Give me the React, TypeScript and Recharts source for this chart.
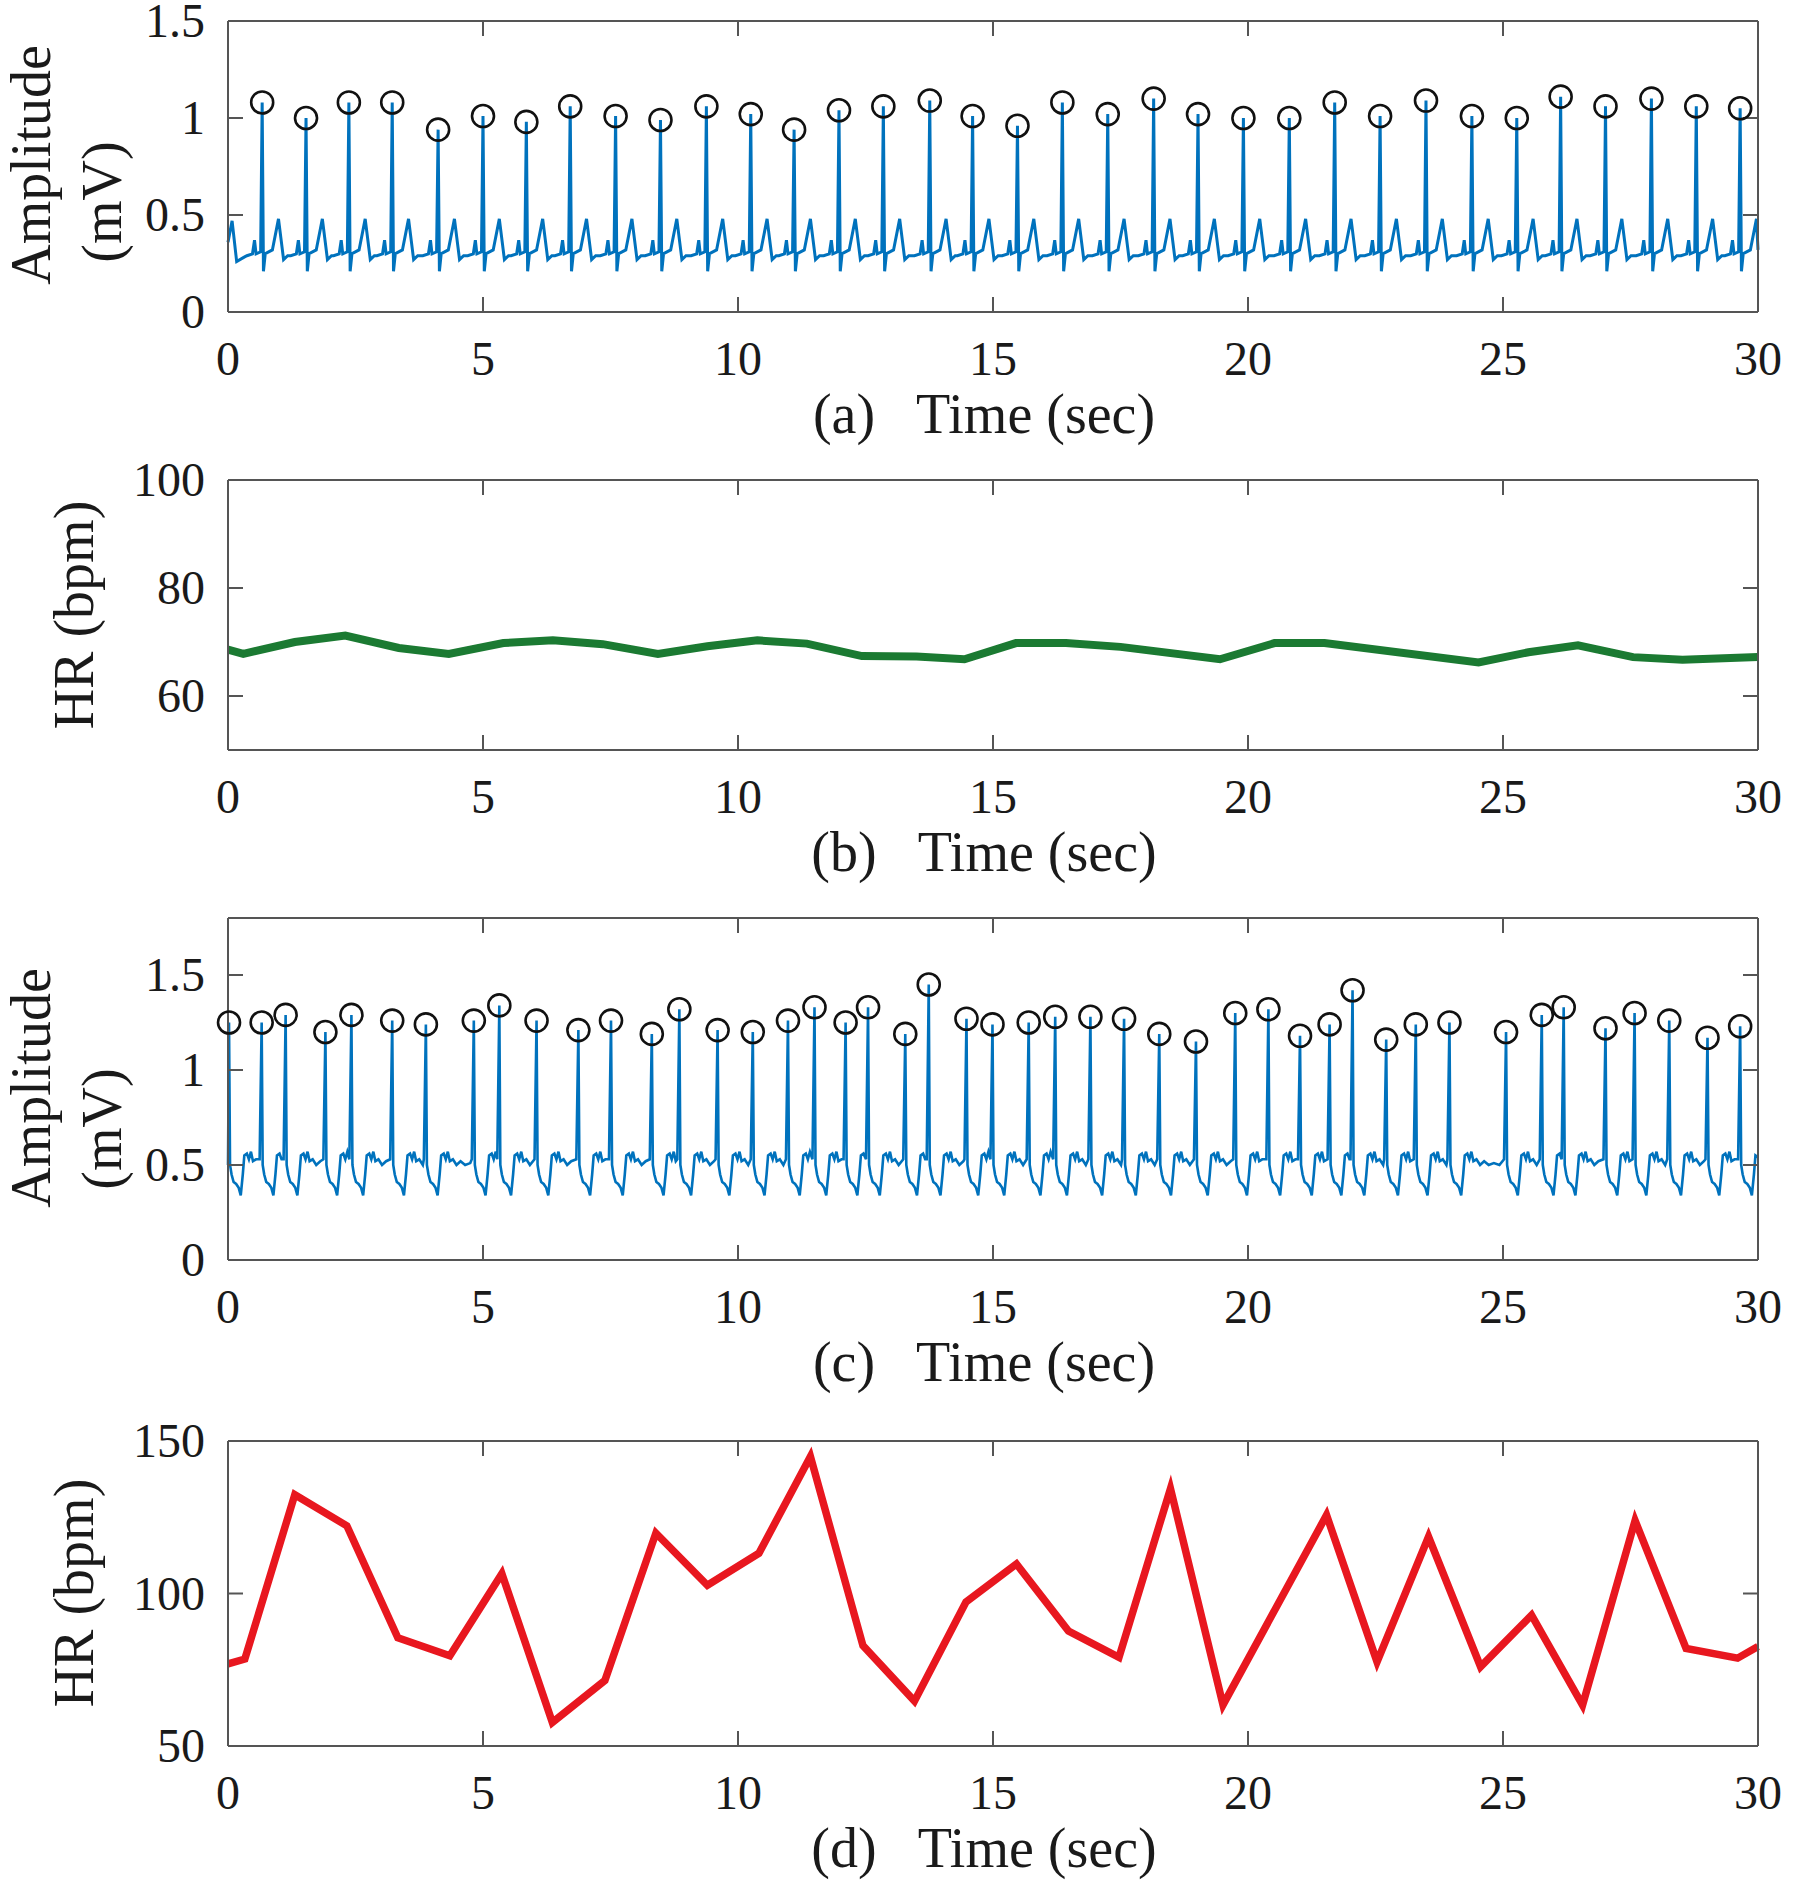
import React from 'react'
import { ComposedChart, Line, Scatter, XAxis, YAxis } from 'recharts'

const timeTicks = [0, 5, 10, 15, 20, 25, 30]

// (a) ECG: R-peak times (s) and heights (mV)
const peakTimesA = [0.67, 1.53, 2.37, 3.22, 4.12, 5.0, 5.85, 6.71, 7.6, 8.48, 9.38, 10.25, 11.1, 11.98, 12.85, 13.76, 14.6, 15.48, 16.36, 17.25, 18.15, 19.02, 19.91, 20.81, 21.7, 22.59, 23.49, 24.39, 25.27, 26.13, 27.01, 27.91, 28.79, 29.65]
const peakAmpsA = [1.08, 1.0, 1.08, 1.08, 0.94, 1.01, 0.98, 1.06, 1.01, 0.99, 1.06, 1.02, 0.94, 1.04, 1.06, 1.09, 1.01, 0.96, 1.08, 1.02, 1.1, 1.02, 1.0, 1.0, 1.08, 1.01, 1.09, 1.01, 1.0, 1.11, 1.06, 1.1, 1.06, 1.05]
// one beat: [offset from R (s), mV], null = the R peak itself
const beatShapeA: [number, number | null][] = [
  [-0.3, 0.29], [-0.19, 0.3], [-0.15, 0.37], [-0.12, 0.3], [-0.03, 0.31], [0, null],
  [0.025, 0.21], [0.06, 0.3], [0.2, 0.32], [0.32, 0.48], [0.42, 0.27], [0.5, 0.29],
]
const startA = [{ t: 0, v: 0.36 }, { t: 0.08, v: 0.47 }, { t: 0.17, v: 0.26 }, { t: 0.3, v: 0.28 }]
const endA = { t: 30, v: 0.32 }

// (b) heart rate from clean ECG
const hrTimesB = [0, 0.3, 1.31, 2.3, 3.35, 4.33, 5.4, 6.37, 7.35, 8.43, 9.4, 10.38, 11.35, 12.43, 13.5, 14.44, 15.45, 16.43, 17.5, 19.45, 20.52, 21.5, 24.52, 25.5, 26.47, 27.55, 28.52, 30]
const hrValuesB = [68.6, 67.8, 70.0, 71.2, 68.9, 67.8, 69.8, 70.3, 69.6, 67.8, 69.2, 70.3, 69.7, 67.4, 67.3, 66.8, 69.8, 69.8, 69.1, 66.8, 69.8, 69.8, 66.2, 68.1, 69.4, 67.2, 66.7, 67.2]

// (c) noisy ECG with detected peaks
const peakTimesC = [0.02, 0.66, 1.13, 1.91, 2.42, 3.22, 3.88, 4.82, 5.32, 6.05, 6.87, 7.51, 8.31, 8.85, 9.6, 10.29, 10.98, 11.5, 12.11, 12.55, 13.28, 13.74, 14.48, 14.99, 15.7, 16.22, 16.91, 17.57, 18.26, 18.98, 19.75, 20.4, 21.02, 21.6, 22.05, 22.71, 23.29, 23.95, 25.06, 25.76, 26.19, 27.01, 27.58, 28.26, 29.01, 29.65]
const peakAmpsC = [1.25, 1.25, 1.29, 1.2, 1.29, 1.26, 1.24, 1.26, 1.34, 1.26, 1.21, 1.26, 1.19, 1.32, 1.21, 1.2, 1.26, 1.33, 1.25, 1.33, 1.19, 1.45, 1.27, 1.24, 1.25, 1.28, 1.28, 1.27, 1.19, 1.15, 1.3, 1.32, 1.18, 1.24, 1.42, 1.16, 1.24, 1.25, 1.2, 1.29, 1.33, 1.22, 1.3, 1.26, 1.17, 1.23]
const beatShapeC: [number, number | null][] = [
  [-0.04, 0.53], [0, null], [0.02, 0.5], [0.05, 0.45], [0.09, 0.41], [0.14, 0.4], [0.19, 0.38],
  [0.23, 0.34], [0.27, 0.45], [0.3, 0.55], [0.35, 0.56], [0.39, 0.53], [0.43, 0.57], [0.47, 0.52],
  [0.53, 0.53], [0.6, 0.5], [0.68, 0.52], [0.77, 0.5], [0.87, 0.51], [0.98, 0.5],
]
const startC = [{ t: 0, v: 0.5 }]
const endC = { t: 30, v: 0.54 }

// (d) heart rate from noisy ECG
const hrTimesD = [0, 0.33, 1.31, 2.33, 3.33, 4.35, 5.37, 6.36, 7.39, 8.39, 9.4, 10.41, 11.42, 12.45, 13.46, 14.47, 15.46, 16.48, 17.47, 18.48, 19.51, 21.54, 22.53, 23.54, 24.56, 25.56, 26.56, 27.59, 28.59, 29.6, 30]
const hrValuesD = [76.9, 78.5, 132.4, 122.2, 85.5, 79.6, 106.5, 57.7, 71.5, 119.8, 102.7, 113.2, 144.9, 82.9, 64.7, 97.2, 109.7, 87.7, 79.1, 134.4, 63.5, 125.7, 77.6, 118.6, 76.0, 92.9, 63.4, 123.9, 82.0, 78.8, 82.6]

type Pt = { t: number; v: number }

function buildTrace(peaks: number[], amps: number[], shape: [number, number | null][], start: Pt[], end: Pt): Pt[] {
  const pts: Pt[] = [...start]
  peaks.forEach((r, i) => {
    const next = i + 1 < peaks.length ? peaks[i + 1] : Infinity
    shape.forEach(([dt, v]) => {
      const t = Math.round((r + dt) * 1000) / 1000
      if (t <= pts[pts.length - 1].t || t >= end.t) return
      if (dt > 0 && t >= next - 0.05) return
      pts.push({ t, v: v === null ? amps[i] : v })
    })
  })
  pts.push(end)
  return pts
}

const zip = (ts: number[], vs: number[]) => ts.map((t, i) => ({ t, v: vs[i] }))

const ecgA = buildTrace(peakTimesA, peakAmpsA, beatShapeA, startA, endA)
const ecgC = buildTrace(peakTimesC, peakAmpsC, beatShapeC, startC, endC)
const hrB = zip(hrTimesB, hrValuesB)
const hrD = zip(hrTimesD, hrValuesD)

const W = 1800
const PLOT_LEFT = 228
const PLOT_RIGHT = 1758
const X_AXIS_H = 136
const TICK_LEN = 15
const AXIS = '#555'
const INK = '#1a1a1a'
const FONT = '"Liberation Serif", "Times New Roman", serif'
const ECG_BLUE = '#0072BD'

function BottomTick(props: any) {
  const { x, y, payload } = props
  return (
    <text x={x} y={y + TICK_LEN + 63} textAnchor="middle" fontFamily={FONT} fontSize={48} fill={INK}>
      {payload.value}
    </text>
  )
}

function LeftTick(props: any) {
  const { x, y, payload } = props
  return (
    <text x={x - TICK_LEN - 23} y={y + 16} textAnchor="end" fontFamily={FONT} fontSize={48} fill={INK}>
      {payload.value}
    </text>
  )
}

// top and right axes keep their tick marks but print no numbers
function NoLabel() {
  return <g />
}

function Ring(props: any) {
  return <circle cx={props.cx} cy={props.cy} r={11} fill="none" stroke="#111" strokeWidth={2.6} />
}

type YLabel = { text: string; x: number; y: number }

function Panel(props: {
  top: number
  marginTop: number
  plotHeight: number
  yDomain: [number, number]
  yTicks: number[]
  yLabels: YLabel[]
  xLabel: string
  children: React.ReactNode
}) {
  const { top, marginTop, plotHeight, yDomain, yTicks, yLabels, xLabel, children } = props
  const height = marginTop + plotHeight + X_AXIS_H
  const plotBottom = marginTop + plotHeight
  const line = { stroke: AXIS, strokeWidth: 2 }
  // the top and right axes take 1px each, so the margins give that back
  return (
    <div style={{ position: 'absolute', left: 0, top }}>
      <ComposedChart width={W} height={height} margin={{ top: marginTop - 1, right: W - PLOT_RIGHT - 1, bottom: 0, left: 0 }}>
        <XAxis
          dataKey="t" type="number" domain={[0, 30]} ticks={timeTicks} interval={0}
          height={X_AXIS_H} tickSize={-TICK_LEN} tickMargin={0}
          axisLine={line} tickLine={line} tick={<BottomTick />}
          label={() => (
            <text x={984} y={plotBottom + 121} textAnchor="middle" fontFamily={FONT} fontSize={56} fill={INK} style={{ whiteSpace: 'pre' }}>
              {xLabel}
            </text>
          )}
        />
        <XAxis
          xAxisId="top" orientation="top" dataKey="t" type="number" domain={[0, 30]} ticks={timeTicks}
          allowDataOverflow interval={0} height={1} tickSize={-TICK_LEN} tickMargin={0}
          axisLine={line} tickLine={line} tick={<NoLabel />}
        />
        <YAxis
          dataKey="v" type="number" domain={yDomain} ticks={yTicks} interval={0}
          width={PLOT_LEFT} tickSize={-TICK_LEN} tickMargin={0}
          axisLine={line} tickLine={line} tick={<LeftTick />}
          label={() => (
            <g>
              {yLabels.map((l) => (
                <text key={l.text} x={l.x} y={l.y - top} transform={`rotate(-90 ${l.x} ${l.y - top})`}
                  textAnchor="middle" fontFamily={FONT} fontSize={56} fill={INK}>
                  {l.text}
                </text>
              ))}
            </g>
          )}
        />
        <YAxis
          yAxisId="right" orientation="right" dataKey="v" type="number" domain={yDomain} ticks={yTicks}
          allowDataOverflow interval={0} width={1} tickSize={-TICK_LEN} tickMargin={0}
          axisLine={line} tickLine={line} tick={<NoLabel />}
        />
        {children}
      </ComposedChart>
    </div>
  )
}

export default function App() {
  return (
    <div style={{ position: 'absolute', left: 0, top: 0, width: W, height: 1882, background: '#fff' }}>
      <Panel
        top={0} marginTop={21} plotHeight={291} yDomain={[0, 1.5]} yTicks={[0, 0.5, 1, 1.5]}
        yLabels={[{ text: 'Amplitude', x: 50, y: 165 }, { text: '(mV)', x: 121, y: 202 }]}
        xLabel="(a)   Time (sec)"
      >
        <Line data={ecgA} dataKey="v" type="linear" stroke={ECG_BLUE} strokeWidth={3} dot={false} isAnimationActive={false} />
        <Scatter data={zip(peakTimesA, peakAmpsA)} shape={Ring} isAnimationActive={false} />
      </Panel>
      <Panel
        top={440} marginTop={40} plotHeight={270} yDomain={[50, 100]} yTicks={[60, 80, 100]}
        yLabels={[{ text: 'HR (bpm)', x: 93, y: 615 }]}
        xLabel="(b)   Time (sec)"
      >
        <Line data={hrB} dataKey="v" type="linear" stroke="#1b7a32" strokeWidth={8} dot={false} isAnimationActive={false} />
      </Panel>
      <Panel
        top={880} marginTop={38} plotHeight={342} yDomain={[0, 1.8]} yTicks={[0, 0.5, 1, 1.5]}
        yLabels={[{ text: 'Amplitude', x: 50, y: 1088 }, { text: '(mV)', x: 121, y: 1129 }]}
        xLabel="(c)   Time (sec)"
      >
        <Line data={ecgC} dataKey="v" type="linear" stroke={ECG_BLUE} strokeWidth={2.6} dot={false} isAnimationActive={false} />
        <Scatter data={zip(peakTimesC, peakAmpsC)} shape={Ring} isAnimationActive={false} />
      </Panel>
      <Panel
        top={1400} marginTop={41} plotHeight={305} yDomain={[50, 150]} yTicks={[50, 100, 150]}
        yLabels={[{ text: 'HR (bpm)', x: 93, y: 1593 }]}
        xLabel="(d)   Time (sec)"
      >
        <Line data={hrD} dataKey="v" type="linear" stroke="#e8171f" strokeWidth={7.5} dot={false} isAnimationActive={false} />
      </Panel>
    </div>
  )
}
